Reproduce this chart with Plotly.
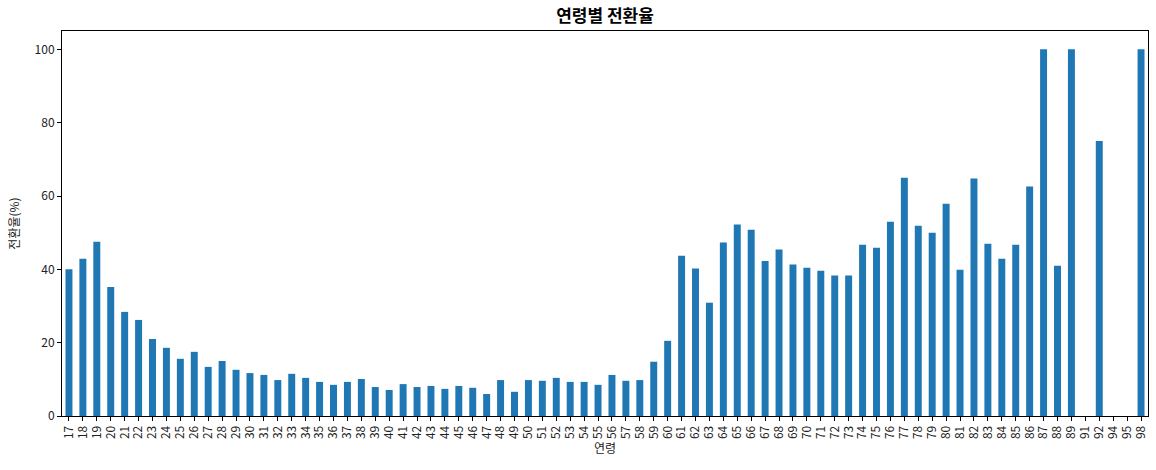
import plotly.graph_objects as go

ages = [str(a) for a in list(range(17, 90)) + [91, 92, 94, 95, 98]]
rates = [
    40.0, 42.9, 47.5, 35.2, 28.4, 26.2, 21.0, 18.6, 15.6, 17.5,   # 17-26
    13.4, 15.0, 12.6, 11.7, 11.2, 9.8, 11.5, 10.4, 9.3, 8.5,      # 27-36
    9.3, 10.1, 7.9, 7.1, 8.7, 7.9, 8.2, 7.4, 8.2, 7.7,            # 37-46
    6.0, 9.8, 6.6, 9.8, 9.6, 10.4, 9.3, 9.3, 8.5, 11.2,           # 47-56
    9.6, 9.8, 14.8, 20.5, 43.7, 40.2, 30.9, 47.3, 52.2, 50.8,     # 57-66
    42.3, 45.4, 41.3, 40.4, 39.6, 38.3, 38.3, 46.7, 45.9, 53.0,   # 67-76
    65.0, 51.9, 50.0, 57.9, 39.9, 64.8, 47.0, 42.9, 46.7, 62.6,   # 77-86
    100.0, 41.0, 100.0,                                           # 87-89
    0.0, 75.0, 0.0, 0.0, 100.0,                                   # 91,92,94,95,98
]
title_text = "연령별 전환율"
x_title = "연령"
y_title = "전환율(%)"
y_ticks = [0, 20, 40, 60, 80, 100]

font_family = "Noto Sans CJK KR, Noto Sans, sans-serif"

fig = go.Figure(go.Bar(x=ages, y=rates, marker=dict(color="#1f77b4", line=dict(width=0))))

fig.update_layout(
    width=1156, height=470,
    margin=dict(l=62, r=8, t=31, b=54, autoexpand=False),
    paper_bgcolor="white", plot_bgcolor="white",
    bargap=0.5,
    showlegend=False,
    font=dict(family=font_family, size=12, color="#222"),
    title=dict(text="<b>" + title_text + "</b>", x=0.5, xref="paper", xanchor="center",
               y=1 - 16 / 470, yref="container", yanchor="middle",
               font=dict(family=font_family, size=17, color="black")),
)
fig.update_xaxes(
    type="category", range=[-0.5, len(ages) - 0.5], automargin=False,
    tickmode="array", tickvals=ages, ticktext=ages,
    tickangle=-90, ticks="outside", ticklen=4, tickcolor="black",
    showline=True, linecolor="black", linewidth=1, mirror=True,
    showgrid=False, tickfont=dict(size=12, color="#222"),
    title=dict(text=x_title, standoff=6, font=dict(size=12, color="#222")),
)
fig.update_yaxes(
    range=[0, 105], tickvals=y_ticks, ticks="outside", ticklen=4, tickcolor="black",
    showline=True, linecolor="black", linewidth=1, mirror=True, automargin=False,
    showgrid=False, zeroline=False, tickfont=dict(size=12, color="#222"),
    title=dict(text=y_title, standoff=12, font=dict(size=12, color="#222")),
)

fig.write_html("out.html", config={"displayModeBar": False},
               post_script="document.body.style.margin='0';")
